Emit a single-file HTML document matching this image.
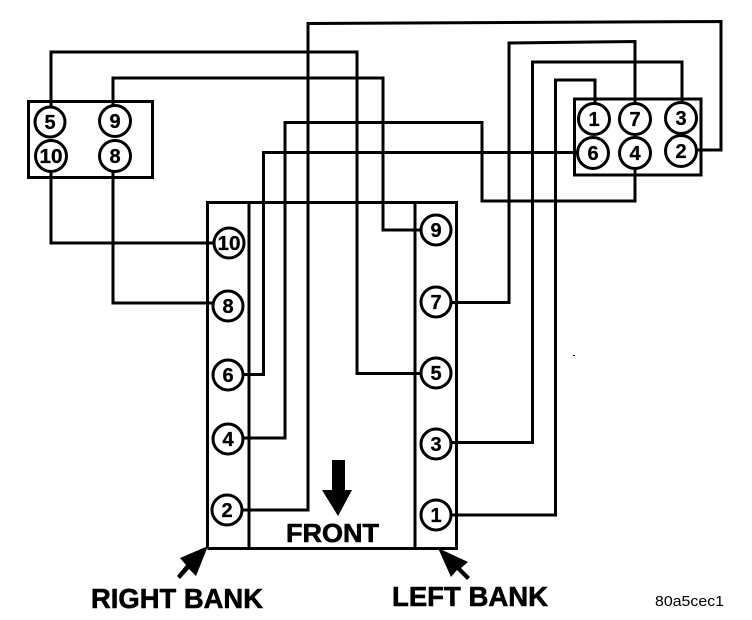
<!DOCTYPE html>
<html><head><meta charset="utf-8"><style>
html,body{margin:0;padding:0;background:#fff;width:752px;height:620px;overflow:hidden}
svg{display:block}
text{font-family:"Liberation Sans",sans-serif;font-weight:bold;fill:#000}
.n{font-size:20px;text-anchor:middle;stroke:#000;stroke-width:.3}
.l{stroke:#000;stroke-width:.6}
</style></head><body>
<svg width="752" height="620" viewBox="0 0 752 620" xmlns="http://www.w3.org/2000/svg">
<g fill="none" stroke="#000" stroke-width="3" stroke-linejoin="miter">
<rect x="28.500" y="101.500" width="124" height="76"/>
<rect x="574.500" y="99" width="126.500" height="76"/>
<path d="M249 549V202.500M207.500 548.500V202.500H456.500V548.500H207.500M415 202.500V548.500" />
<path d="M51 108V52H357V373.500H422"/>
<path d="M113 108V78H383V230H422"/>
<path d="M51 170V243H214"/>
<path d="M113 170V303H214"/>
<path d="M684 150H721V21.500L308 23.500V510H241"/>
<path d="M635 165V201H482V122.500H285V438H241"/>
<path d="M580 152.500H263.500V374.500H241"/>
<path d="M635 105V41.500L509 43V302.500H449"/>
<path d="M682 105V62H532.500V442.500H449"/>
<path d="M595 105V80H555.500V515H449"/>
</g>
<g fill="#fff" stroke="#000" stroke-width="3">
<circle cx="50" cy="122" r="15"/><circle cx="115" cy="121" r="15.500"/>
<circle cx="51" cy="156" r="15.500"/><circle cx="115" cy="156" r="15.500"/>
<circle cx="594" cy="119" r="15.500"/><circle cx="635" cy="119" r="15.500"/><circle cx="681" cy="118" r="15.500"/>
<circle cx="593" cy="153" r="15.500"/><circle cx="635" cy="153" r="15.500"/><circle cx="681" cy="151" r="15.500"/>
<circle cx="229" cy="243" r="15"/><circle cx="228" cy="306" r="15"/><circle cx="228" cy="375" r="15"/><circle cx="228" cy="439" r="15"/><circle cx="227" cy="510" r="15"/>
<circle cx="436" cy="230" r="15"/><circle cx="436" cy="302" r="15"/><circle cx="436" cy="373" r="15"/><circle cx="436" cy="444" r="15"/><circle cx="436" cy="515" r="15"/>
</g>
<g class="nums">
<text class="n" x="50" y="129">5</text><text class="n" x="115" y="128">9</text>
<text class="n" x="51" y="163" textLength="23" lengthAdjust="spacingAndGlyphs">10</text><text class="n" x="115" y="163">8</text>
<text class="n" x="594" y="126">1</text><text class="n" x="635" y="126">7</text><text class="n" x="681" y="125">3</text>
<text class="n" x="593" y="160">6</text><text class="n" x="635" y="160">4</text><text class="n" x="681" y="158">2</text>
<text class="n" x="229" y="250" textLength="23" lengthAdjust="spacingAndGlyphs">10</text><text class="n" x="228" y="313">8</text><text class="n" x="228" y="382">6</text><text class="n" x="228" y="446">4</text><text class="n" x="227" y="517">2</text>
<text class="n" x="436" y="237">9</text><text class="n" x="436" y="309">7</text><text class="n" x="436" y="380">5</text><text class="n" x="436" y="451">3</text><text class="n" x="436" y="522">1</text>
</g>
<polygon points="332,460 345,460 345,490 352,490 338,516 322,490 332,490"/>
<polygon points="208,546 196,576 189,569 180,579 177,576 186,565 180,558"/>
<polygon points="438,548 468,562 461,568 470,577 467,580 457,570 451,577"/>
<text class="l" x="286" y="542" font-size="26" textLength="93" lengthAdjust="spacingAndGlyphs">FRONT</text>
<text class="l" x="91" y="608" font-size="28" textLength="172" lengthAdjust="spacingAndGlyphs">RIGHT BANK</text>
<text class="l" x="392" y="606" font-size="28" textLength="156" lengthAdjust="spacingAndGlyphs">LEFT BANK</text>
<text x="655" y="606" font-size="15" style="font-weight:normal" textLength="69" lengthAdjust="spacingAndGlyphs">80a5cec1</text>
<rect x="573" y="355" width="2" height="1"/>
</svg>
</body></html>
